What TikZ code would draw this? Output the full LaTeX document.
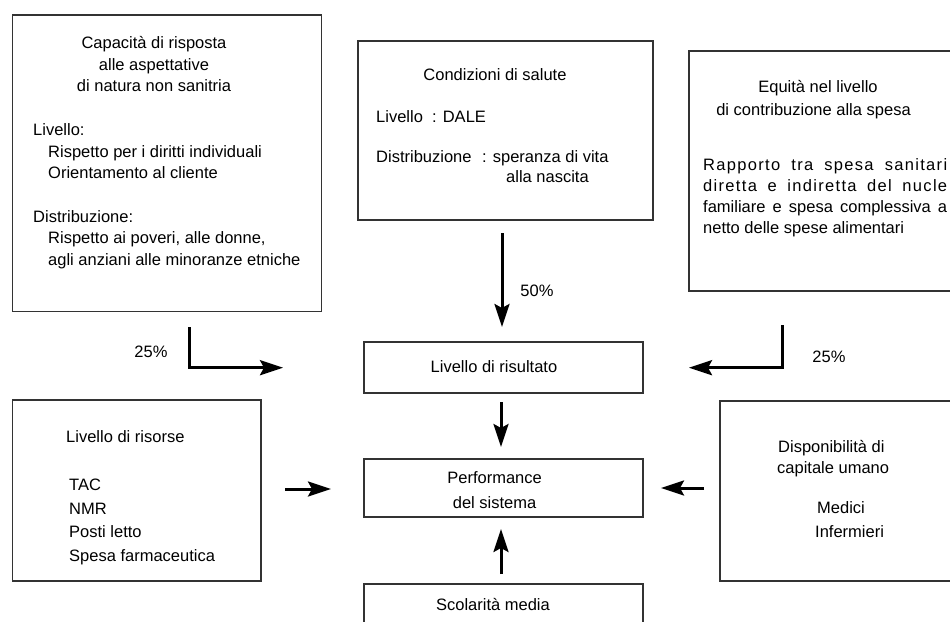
\documentclass[tikz,border=0pt]{standalone}
\usepackage{fontspec}
\setmainfont{Liberation Sans}
\usetikzlibrary{arrows.meta}

\begin{document}
\begin{tikzpicture}[x=1pt,y=-1pt]
    \newcommand{\lsp}{21.7} % line spacing, upper boxes
    \newcommand{\lspb}{23.7} % line spacing, lower boxes
    \newcommand{\fsz}{16.5} % font size

    % styles of the boxes, the texts and the arrows
    \tikzset{
        box/.style={
            draw=black!80,
            line width=1.4pt,
            inner sep=0pt
            },
        txt/.style={inner sep=0pt, font=\fontsize{\fsz}{\lsp}\selectfont},
        flow/.style={
            line width=3pt,
            -{Stealth[length=23pt,width=15pt,inset=4pt]}
            }
    }

    \useasboundingbox (0,0) rectangle (950,621);
    \clip (0,0) rectangle (950,621);

    % boxes
    \node[box, minimum width=309pt, minimum height=296.7pt] (risp) at (167.2,163.4) {};
    \node[box, minimum width=295pt, minimum height=179pt] (sal) at (505.5,130.5) {};
    \node[box, minimum width=301pt, minimum height=240pt] (equ) at (839.5,171) {};
    \node[box, minimum width=279pt, minimum height=51pt] (ris) at (503.5,367.5) {};
    \node[box, minimum width=279pt, minimum height=58pt] (perf) at (503.5,488) {};
    \node[box, minimum width=279pt, minimum height=60pt] (scol) at (503.5,614) {};
    \node[box, minimum width=248.3pt, minimum height=181pt] (risorse) at (136.9,490.5) {};
    \node[box, minimum width=270pt, minimum height=180pt] (umano) at (855,491) {};

    % capacita di risposta
    \foreach \t [count=\i from 0] in {Capacità di risposta, alle aspettative, di natura non sanitria}
        \node[txt, anchor=base] (risp-t\i) at (154,48.5+\i*\lsp) {\t};
    \node[txt, anchor=base west] (risp-liv) at (33,135.3) {Livello:};
    \foreach \t [count=\i] in {Rispetto per i diritti individuali, Orientamento al cliente}
        \node[txt, anchor=base west] (risp-liv\i) at (48,135.3+\i*\lsp) {\t};
    \node[txt, anchor=base west] (risp-dis) at (33,222.1) {Distribuzione:};
    \foreach \t [count=\i] in {{Rispetto ai poveri, alle donne,}, agli anziani alle minoranze etniche}
        \node[txt, anchor=base west] (risp-dis\i) at (48,222.1+\i*\lsp) {\t};

    % condizioni di salute
    \node[txt, anchor=base] (sal-t) at (495,80.5) {Condizioni di salute};
    \node[txt, anchor=base west] (sal-liv) at (376,122.5) {Livello~ : DALE};
    \node[txt, anchor=base west] (sal-dis) at (376,162.5) {Distribuzione};
    \node[txt, anchor=base west] (sal-dis1) at (482,162.5) {: speranza di vita};
    \node[txt, anchor=base west] (sal-dis2) at (506,182.5) {alla nascita};

    % equita
    \node[txt, anchor=base] (equ-t0) at (818,92.5) {Equità nel livello};
    \node[txt, anchor=base] (equ-t1) at (813.5,115.5) {di contribuzione alla spesa};
    \foreach \t [count=\i from 0] in {Rapporto tra spesa sanitari, diretta e indiretta del nucle}
        \node[txt, anchor=base west] (equ-r\i) at (703,170.5+\i*21) {\addfontfeature{LetterSpace=8}\makebox[244pt][s]{\t}};
    \node[txt, anchor=base west] (equ-r2) at (703,212.5) {\makebox[244pt][s]{familiare e spesa complessiva a}};
    \node[txt, anchor=base west] (equ-r3) at (703,233.5) {netto delle spese alimentari};

    % centre column
    \node[txt, anchor=base] (ris-t) at (494,372.5) {Livello di risultato};
    \node[txt, anchor=base] (perf-t0) at (494.6,483.5) {Performance};
    \node[txt, anchor=base] (perf-t1) at (494.6,508.5) {del sistema};
    \node[txt, anchor=base] (scol-t) at (493,610.5) {Scolarità media};

    % livello di risorse
    \node[txt, anchor=base west] (risorse-t) at (66,442.5) {Livello di risorse};
    \foreach \t [count=\i] in {TAC, NMR, Posti letto, Spesa farmaceutica}
        \node[txt, anchor=base west] (risorse-\i) at (69,466.8+\i*\lspb) {\t};

    % capitale umano
    \node[txt, anchor=base west] (umano-t0) at (778,452.5) {Disponibilità di};
    \node[txt, anchor=base west] (umano-t1) at (777,473.5) {capitale umano};
    \node[txt, anchor=base west] (umano-1) at (817,513.5) {Medici};
    \node[txt, anchor=base west] (umano-2) at (815,537.5) {Infermieri};

    % weights
    \node[txt] (w-risp) at (151,352) {25\%};
    \node[txt] (w-sal) at (537,291) {50\%};
    \node[txt] (w-equ) at (829,357) {25\%};

    % ends of the arrows
    \coordinate (risp-a) at (189,327);
    \coordinate (risp-b) at (283,367.7);
    \coordinate (equ-a) at (782.5,325);
    \coordinate (equ-b) at (689,367.7);
    \coordinate (sal-a) at (502,233);
    \coordinate (sal-b) at (502,327);
    \coordinate (ris-a) at (501,402);
    \coordinate (ris-b) at (501,447);
    \coordinate (scol-a) at (501,574);
    \coordinate (scol-b) at (501,529);
    \coordinate (risorse-a) at (285,489);
    \coordinate (risorse-b) at (331,489);
    \coordinate (umano-a) at (704,488);
    \coordinate (umano-b) at (661,488);

    % arrows
    \draw[flow] (risp-a) |- (risp-b);
    \draw[flow] (equ-a) |- (equ-b);
    \draw[flow] (sal-a) -- (sal-b);
    \draw[flow] (ris-a) -- (ris-b);
    \draw[flow] (scol-a) -- (scol-b);
    \draw[flow] (risorse-a) -- (risorse-b);
    \draw[flow] (umano-a) -- (umano-b);
\end{tikzpicture}
\end{document}
